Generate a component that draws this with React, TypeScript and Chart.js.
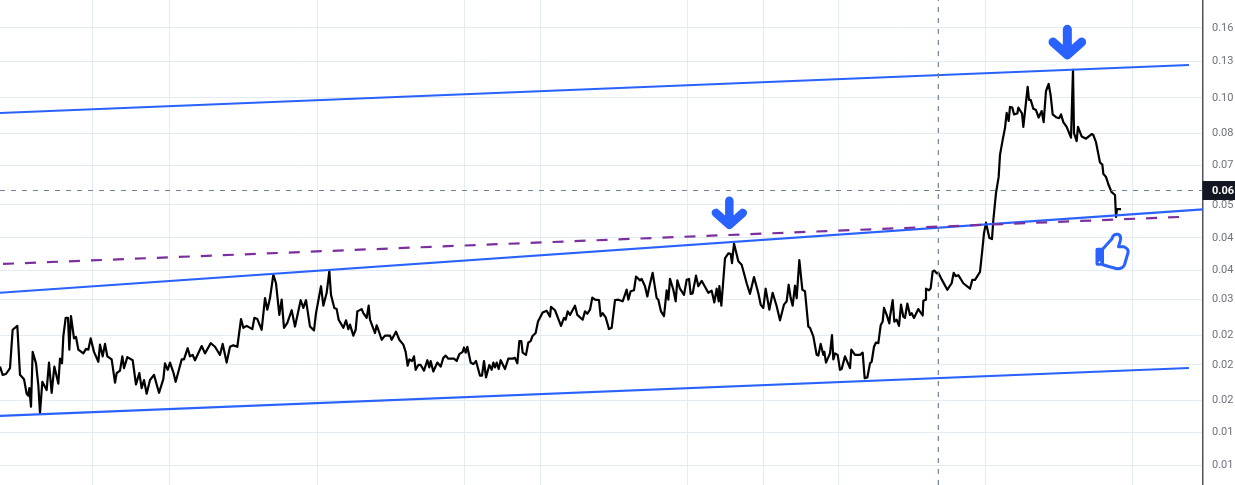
import React, { useEffect, useRef } from "react";
import { Chart, registerables } from "chart.js";

Chart.register(...registerables);

// [session, price]
const priceA: [number, number][] = [
  [0,.0204],[8,.0194],[18,.0195],[30,.0202],[38,.0255],[52,.0261],[60,.0194],[72,.0189],[80,.0173],[85,.0171],[88,.0179],[93,.0160],[98,.0223],[108,.0208],[115,.0182],[120,.0154],[127,.0186],[140,.0177],[147,.0209],[155,.0174],[163,.0204],[175,.0184],[180,.0214],[186,.0208],[190,.0245],[197,.0274],[204,.0274],[208,.0226],[213,.0277],[222,.0242],[228,.0244],[235,.0226],[250,.0221],[258,.0227],[265,.0226],[272,.0242],[282,.0223],[295,.0210],[300,.0233],[308,.0217],[315,.0234],[322,.0217],[335,.0213],[345,.0185],[350,.0196],[360,.0199],[367,.0217],[372,.0202],[382,.0216],[398,.0212],[408,.0183],[418,.0196],[425,.0179],[432,.0188],[440,.0173],[450,.0188],[462,.0194],[477,.0174],[490,.0189],[495,.0208],[503,.0200],[510,.0209],[520,.0197],[527,.0186],[545,.0213],[552,.0213],[563,.0228],[570,.0217],[578,.0219],[585,.0212],[605,.0231],[615,.0221],[632,.0235],[645,.0230],[660,.0219],[668,.0234],[680,.0209],[690,.0230],[700,.0232],[712,.0230],[723,.0272],[730,.0258],[740,.0261],[757,.0256],[763,.0274],[772,.0272],[785,.0255],[795,.0309],[802,.0288],[810,.0309],[820,.0356],[828,.0338],[838,.0279],[845,.0306],[852,.0258],[862,.0266],[875,.0287],[885,.0260],[902,.0305],[910,.0291],[918,.0305],[930,.0260],[942,.0254],[948,.0282],[963,.0332],[970,.0295],[980,.0319],[988,.0364],[993,.0315],[1003,.0291],[1010,.0289],[1016,.0271],[1030,.0258],[1038,.0270],[1045,.0256],[1050,.0263],[1060,.0246],[1067,.0255],[1072,.0285],[1085,.0289],[1090,.0282],[1100,.0274],[1106,.0295],[1110,.0271],[1125,.0250],[1130,.0262],[1135,.0255],[1145,.0240],[1155,.0246],[1170,.0246],[1175,.0240],[1188,.0252],[1198,.0240],
];
const priceB: [number, number][] = [
  [1210,.0233],[1217,.0223],[1223,.0205],[1228,.0213],[1236,.0211],[1242,.0217],[1247,.0200],[1255,.0206],[1262,.0206],[1272,.0199],[1282,.0212],[1288,.0203],[1292,.0211],[1300,.0198],[1312,.0209],[1322,.0204],[1330,.0215],[1337,.0218],[1345,.0214],[1362,.0214],[1370,.0211],[1378,.0220],[1388,.0223],[1392,.0229],[1397,.0222],[1402,.0230],[1412,.0209],[1420,.0207],[1428,.0211],[1440,.0193],[1446,.0193],[1452,.0211],[1458,.0191],[1468,.0206],[1475,.0200],[1480,.0209],[1485,.0203],[1490,.0209],[1496,.0201],[1502,.0212],[1515,.0201],[1525,.0214],[1538,.0214],[1545,.0215],[1552,.0208],[1558,.0238],[1564,.0238],[1568,.0222],[1578,.0219],[1585,.0236],[1592,.0238],[1597,.0245],[1607,.0250],[1614,.0268],[1628,.0283],[1640,.0286],[1650,.0276],[1653,.0293],[1665,.0287],[1683,.0261],[1692,.0274],[1697,.0271],[1703,.0285],[1710,.0279],[1725,.0295],[1732,.0279],[1748,.0271],[1755,.0285],[1762,.0281],[1770,.0288],[1777,.0310],[1785,.0306],[1797,.0305],[1802,.0277],[1808,.0282],[1817,.0275],[1827,.0256],[1835,.0258],[1845,.0305],[1855,.0306],[1868,.0303],[1880,.0325],[1885,.0306],[1892,.0322],[1902,.0324],[1908,.0352],[1920,.0344],[1925,.0347],[1935,.0332],[1942,.0312],[1948,.0331],[1958,.0360],[1970,.0309],[1975,.0306],[1983,.0285],[1992,.0277],[2000,.0324],[2005,.0306],[2010,.0347],[2020,.0325],[2027,.0303],[2032,.0344],[2040,.0327],[2052,.0315],[2060,.0345],[2067,.0347],[2072,.0317],[2078,.0318],[2088,.0354],[2095,.0332],[2105,.0343],[2125,.0319],[2135,.0323],[2143,.0301],[2150,.0327],[2156,.0303],[2158,.0332],[2164,.0295],[2175,.0393],[2185,.0405],[2192,.0404],[2196,.0382],[2202,.0430],[2215,.0386],[2225,.0378],[2240,.0338],[2250,.0317],[2262,.0351],[2275,.0318],[2282,.0297],[2290,.0291],[2297,.0327],[2308,.0288],[2318,.0319],[2330,.0294],[2340,.0270],[2352,.0297],[2360,.0303],[2366,.0335],[2372,.0309],[2378,.0295],[2385,.0333],[2390,.0309],[2398,.0389],[2407,.0325],[2415,.0322],[2425,.0260],[2430,.0258],
];
const priceC: [number, number][] = [
  [2440,.0245],[2450,.0219],[2455,.0218],[2462,.0234],[2470,.0219],[2473,.0223],[2478,.0209],[2490,.0221],[2496,.0247],[2500,.0213],[2505,.0221],[2513,.0219],[2520,.0200],[2525,.0201],[2535,.0217],[2550,.0202],[2554,.0226],[2565,.0219],[2580,.0219],[2588,.0222],[2594,.0190],[2602,.0191],[2610,.0208],[2615,.0210],[2622,.0230],[2628,.0236],[2635,.0235],[2642,.0262],[2648,.0268],[2652,.0291],[2660,.0279],[2668,.0265],[2670,.0276],[2678,.0305],[2683,.0268],[2690,.0271],[2697,.0261],[2703,.0297],[2710,.0276],[2715,.0274],[2722,.0299],[2730,.0279],[2735,.0282],[2742,.0274],[2755,.0289],[2768,.0278],[2770,.0304],[2777,.0306],[2778,.0327],[2787,.0324],[2792,.0328],[2798,.0363],[2803,.0365],[2810,.0359],[2815,.0360],[2825,.0346],[2842,.0325],[2855,.0338],[2861,.0360],[2867,.0353],[2875,.0355],[2890,.0338],[2910,.0327],[2917,.0345],[2925,.0345],[2940,.0362],[2947,.0414],[2952,.0458],[2958,.0488],[2968,.0445],[2976,.0442],
];
const priceD: [number, number][] = [
  [2980,.0496],[2983,.0527],[2988,.0584],[2996,.0644],[3000,.0736],[3008,.0806],[3015,.0866],[3020,.0949],[3026,.0904],[3030,.0984],[3037,.0980],[3042,.0941],[3052,.0946],[3055,.0980],[3066,.0946],[3070,.0872],[3083,.1111],[3087,.1027],[3092,.1027],[3100,.0974],[3108,.0966],[3116,.0923],[3125,.0960],[3131,.0898],[3138,.1084],[3146,.1131],[3152,.1055],[3158,.0941],[3170,.0923],[3178,.0920],[3183,.0941],[3190,.0898],[3200,.0872],[3213,.0817],[3219,.1232],[3222,.0840],[3230,.0800],[3234,.0872],[3245,.0823],[3258,.0812],[3275,.0835],[3280,.0830],[3288,.0795],[3300,.0703],[3307,.0694],[3310,.0656],[3318,.0644],[3325,.0616],[3335,.0587],[3345,.0577],[3348,.0505],[3351,.0530],[3363,.0530],
];

const upperChannel: [number, number][] = [[0, .0949], [3567, .1269]];
const middleChannel: [number, number][] = [[0, .0319], [3609, .0529]];
const lowerChannel: [number, number][] = [[0, .01513], [3567, .02023]];
const purpleTrend: [number, number][] = [[9, .0380], [3537, .0505]];

const yTicks = [.159, .1295, .1040, .0840, .0690, .0544, .0445, .0365, .0306, .0246, .0206, .0166, .0137, .0112];
const xTicks = [276, 507, 951, 1392, 1620, 2061, 2289, 2514, 2958, 3396];

const crossSession = 2815;
const crossPrice = .0593;
const priceMin = .00995;
const priceMax = .1882;
const sessionMax = 3609;

const downArrows: [number, number][] = [[2188, .0470], [3202, .1316]];
const thumbAnchor: [number, number] = [3285, .0459];

const BLUE = "#2962ff";
const GRID = "#e3ecf3";
const CROSS = "#6f8296";

const toXY = (rows: [number, number][]) => rows.map(([x, y]) => ({ x, y }));

const iconPlugin = {
  id: "icons",
  afterDatasetsDraw(chart: any) {
    const { ctx, scales } = chart;
    const xs = scales.x;
    const ys = scales.y;
    ctx.save();
    ctx.strokeStyle = BLUE;
    ctx.fillStyle = BLUE;
    ctx.lineCap = "round";
    ctx.lineJoin = "round";
    downArrows.forEach(([s, p], i) => {
      const x = xs.getPixelForValue(s);
      const tip = ys.getPixelForValue(p);
      const k = i === 0 ? 1 : 1.06;
      ctx.lineWidth = 8.5 * k;
      ctx.beginPath();
      ctx.moveTo(x, tip - 28 * k);
      ctx.lineTo(x, tip - 5 * k);
      ctx.moveTo(x - 13.5 * k, tip - 16 * k);
      ctx.lineTo(x, tip - 4 * k);
      ctx.lineTo(x + 13.5 * k, tip - 16 * k);
      ctx.stroke();
    });
    const ox = xs.getPixelForValue(thumbAnchor[0]);
    const oy = ys.getPixelForValue(thumbAnchor[1]);
    ctx.translate(ox, oy);
    ctx.lineWidth = 3;
    ctx.beginPath();
    ctx.moveTo(8, 16);
    ctx.lineTo(17, 6);
    ctx.quadraticCurveTo(18, 1, 23, 1.5);
    ctx.quadraticCurveTo(27, 3, 25, 9);
    ctx.lineTo(23.5, 14);
    ctx.lineTo(29, 14);
    ctx.quadraticCurveTo(34, 16, 33, 20);
    ctx.lineTo(29.5, 32);
    ctx.quadraticCurveTo(28, 36, 22, 36);
    ctx.quadraticCurveTo(14, 34, 8, 32);
    ctx.stroke();
    ctx.beginPath();
    ctx.roundRect(0.5, 15, 8.5, 18, 2);
    ctx.fill();
    ctx.fillStyle = "#ffffff";
    ctx.beginPath();
    ctx.arc(4.5, 29.5, 1, 0, Math.PI * 2);
    ctx.fill();
    ctx.restore();
  },
  afterDraw(chart: any) {
    const { ctx, scales, chartArea } = chart;
    const y = scales.y.getPixelForValue(crossPrice);
    ctx.save();
    ctx.fillStyle = "#131722";
    ctx.fillRect(chartArea.right - 0.5, y - 9.5, chart.width - chartArea.right + 0.5, 19);
    ctx.fillStyle = "#ffffff";
    ctx.font = "bold 11px Roboto";
    ctx.textBaseline = "middle";
    ctx.fillText(crossPrice.toFixed(2), chartArea.right + 9, y + 0.5);
    ctx.restore();
  },
};

const line = (data: any[], color: string, width: number, dash: number[] = []) => ({
  data,
  borderColor: color,
  borderWidth: width,
  borderDash: dash,
  pointRadius: 0,
  tension: 0,
  fill: false,
  borderJoinStyle: "round" as const,
  borderCapStyle: "butt" as const,
});

export default function App() {
  const ref = useRef<HTMLCanvasElement | null>(null);
  useEffect(() => {
    document.body.style.margin = "0";
    const chart = new Chart(ref.current as HTMLCanvasElement, {
      type: "line",
      data: {
        datasets: [
          line([{ x: 0, y: crossPrice }, { x: sessionMax, y: crossPrice }], CROSS, 1.2, [5, 6]),
          line([{ x: crossSession, y: priceMin }, { x: crossSession, y: priceMax }], CROSS, 1.2, [5, 6]),
          line(toXY(purpleTrend), "#7b2f9d", 2.2, [11, 11]),
          line(toXY(upperChannel), BLUE, 2.1),
          line(toXY(middleChannel), BLUE, 2.1),
          line(toXY(lowerChannel), BLUE, 2.1),
          line(toXY([...priceA, ...priceB, ...priceC, ...priceD]), "#000000", 2.2),
        ],
      },
      options: {
        animation: false,
        responsive: false,
        devicePixelRatio: 1,
        layout: { padding: 0 },
        plugins: { legend: { display: false }, tooltip: { enabled: false } },
        scales: {
          x: {
            type: "linear",
            min: 0,
            max: sessionMax,
            afterBuildTicks: (s: any) => { s.ticks = xTicks.map((value) => ({ value })); },
            afterFit: (s: any) => { s.height = 0; s.paddingLeft = 0; s.paddingRight = 0; },
            ticks: { display: false },
            grid: { color: GRID, lineWidth: 1, drawTicks: false },
            border: { display: false },
          },
          y: {
            type: "logarithmic",
            position: "right",
            min: priceMin,
            max: priceMax,
            afterBuildTicks: (s: any) => { s.ticks = yTicks.map((value) => ({ value })); },
            afterFit: (s: any) => { s.width = 32; s.paddingTop = 0; s.paddingBottom = 0; },
            ticks: {
              callback: (v: any) => Number(v).toFixed(2),
              color: "#6f727d",
              font: { family: "Roboto", size: 11 },
              padding: 9,
              autoSkip: false,
              maxRotation: 0,
            },
            grid: { color: GRID, lineWidth: 1, drawTicks: false },
            border: { display: true, color: "#50535e", width: 1.5 },
          },
        },
      } as any,
      plugins: [iconPlugin],
    });
    return () => chart.destroy();
  }, []);
  return <canvas ref={ref} width={1235} height={485} style={{ display: "block" }} />;
}
